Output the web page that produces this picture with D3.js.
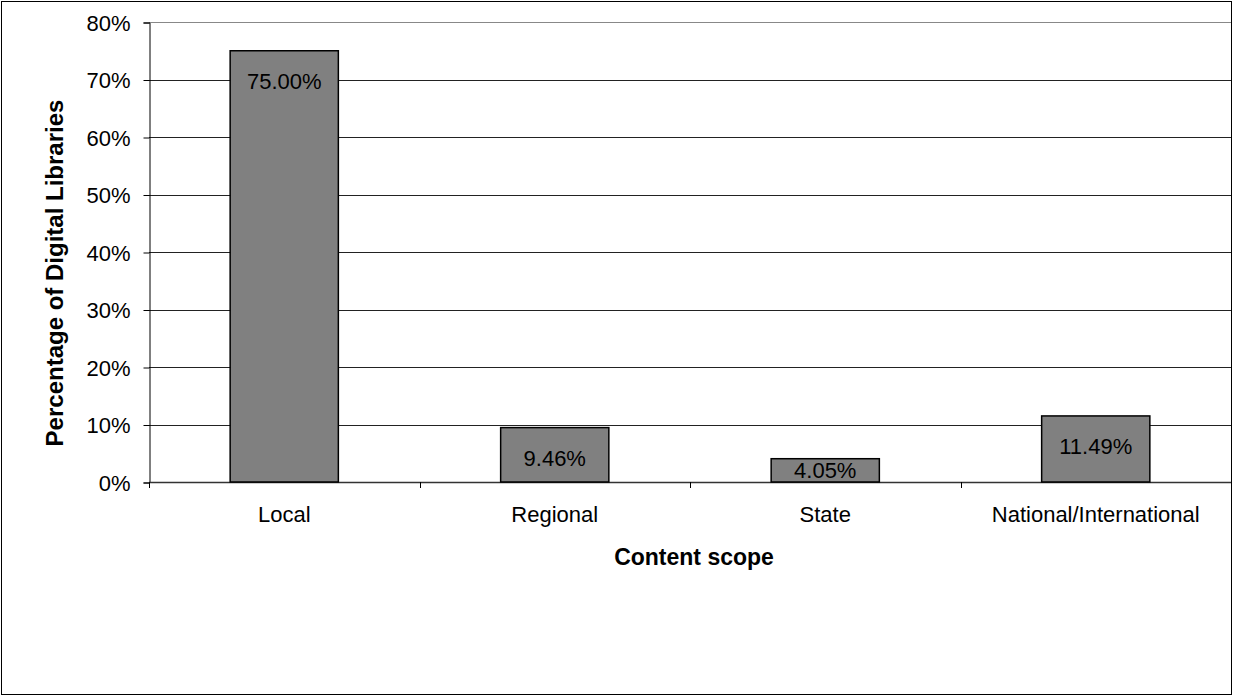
<!DOCTYPE html>
<html>
<head>
<meta charset="utf-8">
<script src="https://cdn.jsdelivr.net/npm/d3@7"></script>
<style>
  body { margin: 0; background: #fff; }
  text { font-family: "Liberation Sans", Arial, sans-serif; fill: #000; }
</style>
</head>
<body>
<div id="chart"></div>
<script>
// chart data
const categories = ["Local", "Regional", "State", "National/International"];
const values = [75.00, 9.46, 4.05, 11.49];
const yTicks = [0, 10, 20, 30, 40, 50, 60, 70, 80];

const svgWidth = 1233;
const svgHeight = 696;
const margin = {left: 149, right: 2, top: 22, bottom: 214};

const svg = d3.select("#chart").append("svg")
    .attr("width", svgWidth)
    .attr("height", svgHeight);

// outer chart border
svg.append("rect")
    .attr("x", 1.5)
    .attr("y", 1.5)
    .attr("width", svgWidth - 3)
    .attr("height", svgHeight - 3)
    .attr("fill", "#fff")
    .attr("stroke", "#000")
    .attr("stroke-width", 1);

const x = d3.scaleBand()
    .domain(categories)
    .range([margin.left, svgWidth - margin.right])
    .paddingInner(0.6)
    .paddingOuter(0.3);

const y = d3.scaleLinear()
    .domain([0, 80])
    .range([svgHeight - margin.bottom, margin.top]);

// gridlines
svg.append("g")
    .selectAll("line")
    .data(yTicks.slice(1))
    .join("line")
    .attr("x1", margin.left)
    .attr("x2", svgWidth - margin.right)
    .attr("y1", d => Math.round(y(d)) + 0.5)
    .attr("y2", d => Math.round(y(d)) + 0.5)
    .attr("stroke", d => d == 80 ? "#888" : "#222")
    .attr("stroke-width", 1);

// y axis
const yAxis = svg.append("g")
    .attr("transform", `translate(${margin.left + 0.5},0.5)`)
    .call(d3.axisLeft(y).tickValues(yTicks).tickFormat(d => d + "%").tickSize(6).tickPadding(13));
yAxis.select(".domain").attr("stroke", "#000");
yAxis.selectAll(".tick line").attr("stroke", "#000");
yAxis.selectAll("text")
    .style("font-size", "22px")
    .attr("dy", "0.35em");

// x axis with ticks between categories
const boundaries = d3.range(categories.length + 1).map(i => margin.left + i * (svgWidth - margin.left - margin.right) / categories.length);
svg.append("line")
    .attr("x1", margin.left)
    .attr("x2", svgWidth - margin.right)
    .attr("y1", y(0) + 0.5)
    .attr("y2", y(0) + 0.5)
    .attr("stroke", "#333")
    .attr("stroke-width", 1.5);
svg.append("g")
    .selectAll("line")
    .data(boundaries.slice(0, categories.length))
    .join("line")
    .attr("x1", d => Math.round(d) + 0.5)
    .attr("x2", d => Math.round(d) + 0.5)
    .attr("y1", y(0))
    .attr("y2", y(0) + 6)
    .attr("stroke", "#000");

svg.append("g")
    .selectAll("text")
    .data(categories)
    .join("text")
    .attr("x", d => x(d) + x.bandwidth() / 2)
    .attr("y", y(0) + 40)
    .attr("text-anchor", "middle")
    .style("font-size", "22px")
    .text(d => d);

// bars
svg.append("g")
    .selectAll("rect")
    .data(values)
    .join("rect")
    .attr("x", (d, i) => x(categories[i]))
    .attr("y", d => y(d))
    .attr("width", x.bandwidth())
    .attr("height", d => y(0) - y(d))
    .attr("fill", "#808080")
    .attr("stroke", "#000")
    .attr("stroke-width", 1.5);

// value labels
svg.append("g")
    .selectAll("text")
    .data(values)
    .join("text")
    .attr("x", (d, i) => x(categories[i]) + x.bandwidth() / 2)
    .attr("y", d => Math.min(y(d) + 38, y(0) - 4))
    .attr("text-anchor", "middle")
    .style("font-size", "22px")
    .text(d => d.toFixed(2) + "%");

// axis titles
svg.append("text")
    .attr("x", (margin.left + svgWidth - margin.right) / 2 + 4)
    .attr("y", 565)
    .attr("text-anchor", "middle")
    .style("font-size", "23px")
    .style("font-weight", "bold")
    .text("Content scope");

svg.append("text")
    .attr("transform", `translate(63,${(y(0) + y(80)) / 2 + 21}) rotate(-90)`)
    .attr("text-anchor", "middle")
    .style("font-size", "24px")
    .style("font-weight", "bold")
    .text("Percentage of Digital Libraries");
</script>
</body>
</html>
